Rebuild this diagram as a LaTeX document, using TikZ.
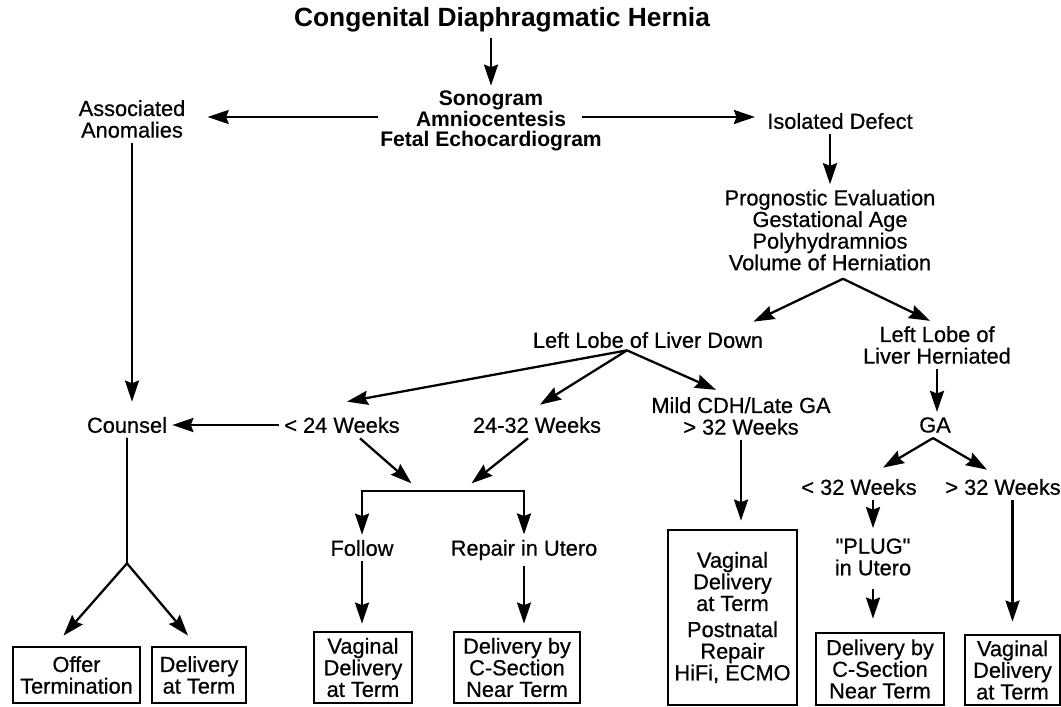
\documentclass[tikz,border=0pt]{standalone}
\usepackage{fontspec}
\setmainfont{Liberation Sans}[FakeBold=0.6]
\newfontfamily{\headfam}{Liberation Sans Bold}
\usetikzlibrary{arrows.meta,calc}

\newcommand{\lblfont}{\fontsize{12.4}{12.3}\selectfont}
\newcommand{\testfont}{\headfam\fontsize{12}{11.6}\selectfont}
\newcommand{\headfont}{\headfam\fontsize{15}{18}\selectfont}

\tikzset{
  lbl/.style={align=center, font=\lblfont, inner sep=1mm},
  outcome/.style={draw, line width=1.6pt, align=center, font=\lblfont, inner sep=0pt},
  arr/.style={-{Stealth[length=12pt,width=8pt,inset=1.5pt]}, line width=1.3pt},
  plain/.style={line width=1.3pt, line cap=round},
}

\begin{document}
\begin{tikzpicture}[x=0.2mm, y=-0.2mm]
    \useasboundingbox (0,0) rectangle (1061,707);

    % Top of the chart
    \node[lbl, font=\headfont] (title) at (502,20) {Congenital Diaphragmatic Hernia};
    \node[lbl, font=\testfont] (tests) at (491,121) {Sonogram\\Amniocentesis\\Fetal Echocardiogram};
    \node[lbl] (assoc) at (132,119) {Associated\\Anomalies};
    \node[lbl] (isolated) at (840,121) {Isolated Defect};
    \node[lbl] (prog) at (830,230) {Prognostic Evaluation\\Gestational Age\\Polyhydramnios\\Volume of Herniation};

    % Liver and gestational age
    \node[lbl] (lldown) at (648,340) {Left Lobe of Liver Down};
    \node[lbl] (llherniated) at (937,345) {Left Lobe of\\Liver Herniated};
    \node[lbl] (counsel) at (127,425) {Counsel};
    \node[lbl] (lt24) at (342,425) {< 24 Weeks};
    \node[lbl] (w2432) at (537,425) {24-32 Weeks};
    \node[lbl] (mild) at (741,416) {Mild CDH/Late GA\\> 32 Weeks};
    \node[lbl] (ga) at (935,425) {GA};
    \node[lbl] (lt32) at (859,487) {< 32 Weeks};
    \node[lbl] (gt32) at (1003,487) {> 32 Weeks};
    \node[lbl] (follow) at (362,548) {Follow};
    \node[lbl] (repair) at (524,550) {Repair in Utero};
    \node[lbl] (plug) at (873,557) {\textquotedbl PLUG\textquotedbl\\in Utero};

    % Boxes at the bottom
    \node[outcome, minimum width=25.4mm, minimum height=11.2mm] (offer) at (76.5,675) {Offer\\Termination};
    \node[outcome, minimum width=18.8mm, minimum height=11.2mm] (delterm) at (199,675) {Delivery\\at Term};
    \node[outcome, minimum width=19.6mm, minimum height=14.2mm] (vag1) at (363,667.5) {Vaginal\\Delivery\\at Term};
    \node[outcome, minimum width=25.2mm, minimum height=14.2mm] (csec1) at (517,667.5) {Delivery by\\C-Section\\Near Term};
    \node[outcome, minimum width=25.8mm, minimum height=35mm] (bigbox) at (732.5,617.5) {Vaginal\\Delivery\\at Term\\[0.9mm]Postnatal\\Repair\\HiFi, ECMO};
    \node[outcome, minimum width=25.6mm, minimum height=14.4mm] (csec2) at (880,669) {Delivery by\\C-Section\\Near Term};
    \node[outcome, minimum width=19mm, minimum height=14mm] (vag2) at (1012.5,670) {Vaginal\\Delivery\\at Term};

    % Diagnosis and the two sides
    \draw[arr] (tests.north |- title.south) -- (tests.north);
    \draw[arr] ($(tests)+(-113,-4)$) -- ($(assoc.east)+(17,-2)$);
    \draw[arr] ($(tests)+(91,-4)$) -- ($(isolated.west)+(-7,-4)$);
    \draw[arr] (isolated.south -| prog.north) -- (prog.north);

    % Associated anomalies
    \draw[arr, shorten >=2mm] (assoc.south) -- (assoc.south |- counsel.north);
    \draw[arr] (lt24.west) -- (counsel.east);
    \coordinate (fork) at ($(counsel.south)+(0,125)$);
    \draw[plain] (counsel.south) -- (fork);
    \draw[arr] (fork) -- ($(offer.north)+(-13,-10)$);
    \draw[arr] (fork) -- ($(delterm.north)+(-11,-10)$);

    % Prognostic evaluation
    \coordinate (progfoot) at ($(prog.south)+(13,3)$);
    \draw[arr] (progfoot) -- ($(lldown.north east)+(-15,-5)$);
    \draw[arr] (progfoot) -- ($(llherniated.north)+(-7,0)$);

    % Liver down
    \coordinate (downfoot) at ($(lldown.south)+(-21,-3)$);
    \foreach \tgt/\dx/\dy in {lt24/5/-10, w2432/3/-7, mild/-25/-2}
        \draw[arr] (downfoot) -- ($(\tgt.north)+(\dx,\dy)$);

    \coordinate (join) at ($(lt24.south)!0.5!(w2432.south)+(0,53)$);
    \draw[arr] ($(lt24.south)+(18,0)$) -- ($(join)+(-28,-8)$);
    \draw[arr] ($(w2432.south)+(-9,0)$) -- ($(join)+(32,-8)$);
    \draw[arr] (join) -| (follow.north);
    \draw[arr] (join) -| (repair.north);
    \draw[arr, shorten >=1.4mm] (follow.south) -- (follow.south |- vag1.north);
    \draw[arr, shorten >=1.4mm] (repair.south) -- (repair.south |- csec1.north);
    \draw[arr, shorten >=1.6mm] (mild.south) -- (mild.south |- bigbox.north);

    % Liver herniated
    \draw[arr] (llherniated.south) -- (llherniated.south |- ga.north);
    \coordinate (gafoot) at ($(ga.south)+(-2,0)$);
    \draw[arr] (gafoot) -- ($(lt32.north)+(24,-6)$);
    \draw[arr] (gafoot) -- ($(gt32.north)+(-16,-4)$);
    \draw[arr, shorten >=1mm] (lt32.south -| plug.north) -- (plug.north);
    \draw[arr, shorten <=1.6mm, shorten >=2.6mm] (plug.south) -- (plug.south |- csec2.north);
    \draw[arr, shorten >=2.4mm] (vag2.north |- gt32.south) -- (vag2.north);
\end{tikzpicture}
\end{document}
